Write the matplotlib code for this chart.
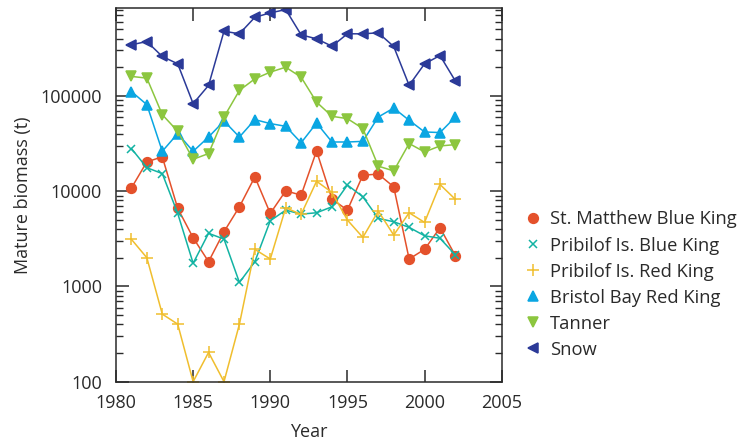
import matplotlib
matplotlib.use("Agg")
import matplotlib.pyplot as plt
from matplotlib.lines import Line2D
import numpy as np

plt.rcParams['font.family'] = ['Open Sans', 'DejaVu Sans']

years = list(range(1981, 2003))

st_matthew_blue = [10800, 20300, 22900, 6600, 3240, 1820, 3750, 6850, 14100, 5840, 10070, 9080,
                   26400, 8250, 6320, 14700, 15100, 11100, 1940, 2450, 4130, 2100]
pribilof_blue = [28000, 17600, 15300, 5840, 1750, 3610, 3140, 1100, 1820, 4890, 6320, 5740,
                 5930, 6850, 11600, 8720, 5180, 4770, 4170, 3400, 3200, 2140]
pribilof_red = [3120, 2000, 512, 402, 100, 203, 100, 402, 2450, 1940, 6690, 5700,
                12700, 9690, 4970, 3270, 6180, 3460, 5930, 4700, 11750, 8190]
bristol_bay_red = [111000, 80900, 26200, 40200, 26200, 37000, 54500, 37000, 56300, 51200, 47900, 32200,
                   51900, 32800, 32800, 33300, 60000, 74500, 55400, 41800, 41200, 60000]
tanner = [160000, 153600, 63500, 42500, 21600, 24800, 60000, 114000, 151000, 177500, 200000, 157000,
          86000, 61000, 57700, 45400, 18300, 16300, 31600, 25800, 29800, 30800]
snow = [343600, 372000, 259000, 217000, 82800, 128800, 477000, 448000, 668000, 743000, 805000, 437000,
        397000, 332000, 448000, 448000, 459000, 330000, 129000, 217000, 265000, 143000]

series = [
    ("St. Matthew Blue King", st_matthew_blue, "#E4512B", "o", 7.0),
    ("Pribilof Is. Blue King", pribilof_blue, "#13B3A3", "x", 6.0),
    ("Pribilof Is. Red King", pribilof_red, "#F0BE2E", "+", 9.0),
    ("Bristol Bay Red King", bristol_bay_red, "#0AA6E2", "^", 7.5),
    ("Tanner", tanner, "#8CC63F", "v", 7.5),
    ("Snow", snow, "#2B3A98", "<", 7.5),
]

fig = plt.figure(figsize=(7.41, 4.43), dpi=100)
ax = fig.add_axes([116/741, 1-381.7/443, (501.7-116)/741, (381.7-8.3)/443])

text_color = "#2a2a2a"
handles = []
for name, vals, col, mk, ms in series:
    ax.plot(years, vals, color=col, lw=1.1, marker=mk, ms=ms, mec=col, mfc=col, mew=1.1)
    handles.append(Line2D([], [], ls='none', marker=mk, color=col, ms=ms, mew=1.1))

ax.set_yscale('log')
ax.set_xlim(1980, 2005)
ax.set_ylim(100, 8.3e5)
ax.set_xticks([1980, 1985, 1990, 1995, 2000, 2005])
ax.set_yticks([100, 1000, 10000, 100000])
ax.set_yticklabels(["100", "1000", "10000", "100000"])
ax.tick_params(axis='both', which='both', direction='in', top=True, right=True,
               labelsize=13, colors=text_color)
ax.tick_params(which='major', length=9, width=1.1)
ax.tick_params(which='minor', length=5, width=1.0)
ax.tick_params(axis='x', which='minor', top=False, bottom=False)
ax.tick_params(axis='x', pad=9)
ax.tick_params(axis='y', pad=10)
for sp in ax.spines.values():
    sp.set_color(text_color)
    sp.set_linewidth(1.1)

ax.set_xlabel("Year", fontsize=13, color=text_color, labelpad=8)
ax.set_ylabel("Mature biomass (t)", fontsize=13, color=text_color, labelpad=6)

fig.legend(handles, [s[0] for s in series], loc='upper left',
           bbox_to_anchor=(507/741, 1-194/443), frameon=False, fontsize=13.2,
           handlelength=1.0, handletextpad=0.45, labelspacing=0.44, labelcolor=text_color)

fig.savefig("out.png", dpi=100)
